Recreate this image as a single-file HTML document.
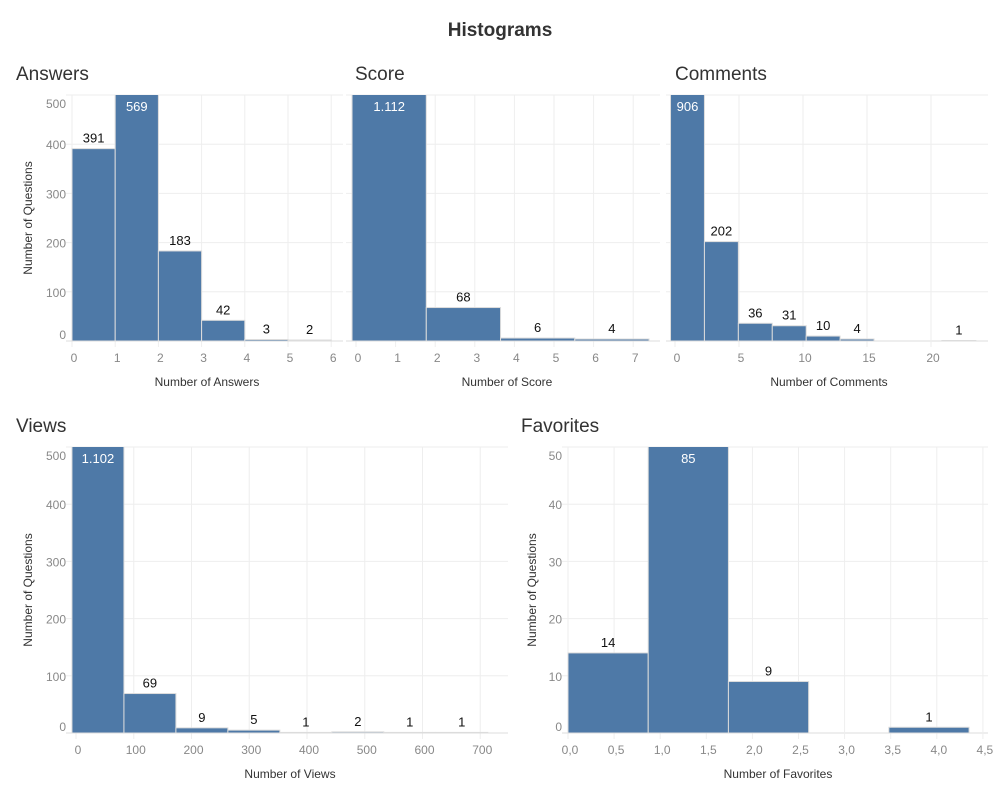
<!DOCTYPE html>
<html><head><meta charset="utf-8">
<style>
html,body{margin:0;padding:0;background:#fff;}
body{width:1000px;height:800px;overflow:hidden;font-family:"Liberation Sans",sans-serif;}
svg text{font-family:"Liberation Sans",sans-serif;}
</style></head>
<body>
<svg id="root" width="1000" height="800" viewBox="0 0 1000 800">
<text x="500" y="36" text-anchor="middle" font-size="19" font-weight="bold" fill="#333">Histograms</text>
</svg>
<script>
// ---- data ----
const answersBins = [0,1,2,3,4,5];
const answersValues = [391,569,183,42,3,2];
const answersLabels = ["391","569","183","42","3","2"];
const answersXTicks = [0,1,2,3,4,5,6];

const scoreBins = [-0.1,1.775,3.65,5.525];
const scoreValues = [1112,68,6,4];
const scoreLabels = ["1.112","68","6","4"];
const scoreXTicks = [0,1,2,3,4,5,6,7];

const commentsBins = [-0.35,2.3,4.95,7.6,10.25,12.9,15.55,18.2,20.85];
const commentsValues = [906,202,36,31,10,4,0,0,1];
const commentsLabels = ["906","202","36","31","10","4","","","1"];
const commentsXTicks = [0,5,10,15,20];

const viewsBins = [-7,83,173,263,353,443,533,623];
const viewsValues = [1102,69,9,5,1,2,1,1];
const viewsLabels = ["1.102","69","9","5","1","2","1","1"];
const viewsXTicks = [0,100,200,300,400,500,600,700];

const favBins = [0,0.87,1.74,2.61,3.48];
const favValues = [14,85,9,0,1];
const favLabels = ["14","85","9","","1"];
const favXTicks = [0,0.5,1,1.5,2,2.5,3,3.5,4,4.5];
const favXTickText = ["0,0","0,5","1,0","1,5","2,0","2,5","3,0","3,5","4,0","4,5"];

const yTicks500 = [0,100,200,300,400,500];
const yTicks50 = [0,10,20,30,40,50];

const NS = "http://www.w3.org/2000/svg";
const root = document.getElementById('root');
function mk(tag, attrs, parent){
  const e = document.createElementNS(NS, tag);
  for (const k in attrs) e.setAttribute(k, attrs[k]);
  (parent||root).appendChild(e);
  return e;
}

function chart(c){
  const g = mk('g', {});
  
  
  const sx = v => c.x0 + (v - c.xmin) * c.xs;
  const sy = v => c.yb - v * (c.yb - c.yt) / c.ymax;
  const t = mk('text', {x:c.titleX, y:c.titleY, 'font-size':19, fill:'#333'}, g);
  t.textContent = c.title;
  
  
  // horizontal grid
  c.yTicks.forEach((v,i)=>{
    const y = sy(v);
    const gl = mk('line', {x1:c.gl, x2:c.pr, y1:y, y2:y, stroke: v===0?'#ddd':'#eee', 'stroke-width':1}, g);
    
    
    if (c.showY){
      let ly = y + 5;
      if (i === c.yTicks.length-1) ly += 8;
      if (i === 0) ly -= 7;
      const tt = mk('text', {x:c.pl-6, y:ly, 'font-size':12, fill:'#888', 'text-anchor':'end'}, g);
      tt.textContent = String(v);
      
      
    }
  });
  // vertical grid + x ticks
  c.xTicks.forEach((v,i)=>{
    const x = sx(v);
    const vl = mk('line', {x1:x, x2:x, y1:c.yt, y2:c.yb+6, stroke:'#eee', 'stroke-width':1}, g);
    
    
    const tt = mk('text', {x:x+2, y:c.yb+21, 'font-size':12, fill:'#888', 'text-anchor':'middle'}, g);
    tt.textContent = c.xText ? c.xText[i] : String(v);
    
    
  });
  // bars
  const clip = 'clip-' + c.key;
  const cp = mk('clipPath', {id:clip}, g);
  mk('rect', {x:c.pl-2, y:c.yt, width:c.pr-c.pl+4, height:c.yb-c.yt+2}, cp);
  c.bins.forEach((b,i)=>{
    const v = c.values[i];
    if (v <= 0) return;
    const x1 = sx(b), x2 = sx(b + c.bw);
    const top = sy(v);
    const r = mk('rect', {x:x1, y:Math.max(top, c.yt-2), width:x2-x1, height:c.yb-Math.max(top, c.yt-2), fill:'#4e79a7', stroke:'#dcdcdc', 'stroke-width':1, 'clip-path':'url(#'+clip+')'}, g);
    
    
  });
  c.bins.forEach((b,i)=>{
    const v = c.values[i];
    const lbl = c.labels[i];
    if (!lbl) return;
    const x1 = sx(b), x2 = sx(b + c.bw);
    const top = sy(v);
    const inside = top < c.yt;
    const tt = mk('text', {x:(x1+x2)/2, y: inside ? c.yt+16 : top-6, 'font-size':13, fill: inside?'#fff':'#111', 'text-anchor':'middle'}, g);
    tt.textContent = lbl;
    
    
  });
  const xt = mk('text', {x:c.xTitleX, y:c.yb+45, 'font-size':12, fill:'#333', 'text-anchor':'middle'}, g);
  xt.textContent = c.xTitle;
  
  
  if (c.showY){
    const cy = (c.yt + c.yb)/2;
    const yt = mk('text', {x:0, y:0, 'font-size':12, fill:'#333', 'text-anchor':'middle', transform:'translate('+c.yTitleX+','+cy+') rotate(-90)'}, g);
    yt.textContent = 'Number of Questions';
    
    
  }
}

chart({key:'answers', title:'Answers', titleX:16, titleY:80, bins:answersBins, values:answersValues, labels:answersLabels, bw:1,
  xTicks:answersXTicks, xmin:0, x0:72, xs:43.2, pl:72, pr:343, gl:66, yt:95, yb:341, ymax:500, yTicks:yTicks500,
  showY:true, yTitleX:32, xTitle:'Number of Answers', xTitleX:207});
chart({key:'score', title:'Score', titleX:355, titleY:80, bins:scoreBins, values:scoreValues, labels:scoreLabels, bw:1.875,
  xTicks:scoreXTicks, xmin:0, x0:356, xs:39.6, pl:352, pr:660, gl:346, yt:95, yb:341, ymax:500, yTicks:yTicks500,
  showY:false, xTitle:'Number of Score', xTitleX:507});
chart({key:'comments', title:'Comments', titleX:675, titleY:80, bins:commentsBins, values:commentsValues, labels:commentsLabels, bw:2.65,
  xTicks:commentsXTicks, xmin:0, x0:675, xs:12.8, pl:670, pr:988, gl:666, yt:95, yb:341, ymax:500, yTicks:yTicks500,
  showY:false, xTitle:'Number of Comments', xTitleX:829});
chart({key:'views', title:'Views', titleX:16, titleY:432, bins:viewsBins, values:viewsValues, labels:viewsLabels, bw:90,
  xTicks:viewsXTicks, xmin:0, x0:76, xs:0.5775, pl:72, pr:508, gl:66, yt:447, yb:733, ymax:500, yTicks:yTicks500,
  showY:true, yTitleX:32, xTitle:'Number of Views', xTitleX:290});
chart({key:'favorites', title:'Favorites', titleX:521, titleY:432, bins:favBins, values:favValues, labels:favLabels, bw:0.87,
  xTicks:favXTicks, xText:favXTickText, xmin:0, x0:568, xs:92.2, pl:568, pr:988, gl:562, yt:447, yb:733, ymax:50, yTicks:yTicks50,
  showY:true, yTitleX:536, xTitle:'Number of Favorites', xTitleX:778});
</script>
</body></html>
